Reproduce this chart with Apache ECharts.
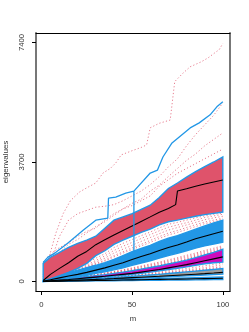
<!DOCTYPE html>
<html><head><meta charset="utf-8">
<script src="https://cdn.jsdelivr.net/npm/echarts@6/dist/echarts.min.js"></script>
<style>html,body{margin:0;padding:0;background:#fff}#c{width:249px;height:332px}</style>
</head><body><div id="c"></div>
<script>
// shared m grid
const M = [1,5,10,15,20,25,30,35,40,45,50,55,60,65,70,75,80,85,90,95,100];
const xTicks = [0,50,100];
const yTicks = [0,3700,7400];

// band 1 (red)
const redTop = [560,750,900,1057,1180,1280,1400,1650,1897,2000,2100,2230,2363,2600,2880,3050,3230,3400,3560,3700,3855];
const redBot = [20,80,155,280,404,560,800,950,1150,1280,1400,1520,1620,1750,1850,1900,1960,2020,2070,2110,2150];
const redMedM = [1,5,10,15,20,25,30,35,40,45,50,55,60,65,70,74,75,80,85,90,95,100];
const redMed = [30,220,404,580,780,930,1140,1290,1440,1580,1720,1860,2000,2145,2260,2380,2800,2870,2950,3020,3080,3140];
// band 2 (blue)
const blueTop = [15,80,180,270,350,430,500,580,680,800,920,1020,1120,1240,1340,1420,1520,1620,1720,1810,1900];
const blueMed = [5,50,110,170,220,280,350,420,500,580,680,770,860,960,1050,1130,1220,1320,1400,1480,1555];
const blueBot = [0,30,60,100,140,190,250,300,360,420,500,570,640,720,800,870,950,1030,1100,1160,1213];
// band 3 (magenta)
const magTop = [3,30,60,90,120,150,180,210,250,290,330,380,430,480,540,600,660,740,820,900,995];
const magMed = [2,20,40,60,85,110,135,160,190,220,250,290,330,370,420,470,520,580,640,700,760];
const magBot = [1,15,30,50,70,90,115,140,165,190,220,255,290,330,370,410,450,500,550,580,600];
// band 4 (grey)
const grayTop = [1,10,25,40,55,70,85,100,120,140,160,180,200,220,245,270,295,320,345,370,400];
const grayMed = [1,8,18,30,42,54,65,77,90,104,118,132,146,160,176,192,208,225,242,260,280];
const grayBot = [1,6,14,24,34,44,54,64,75,86,97,108,120,132,145,158,171,185,199,213,228];
// band 5 (lowest)
const lowTop = [1,6,12,18,25,31,38,45,52,59,66,73,80,87,94,101,108,115,122,129,136];
const lowMed = [0,4,8,13,18,23,28,33,38,43,48,53,58,63,68,73,78,83,88,93,98];
const lowBot = [0,2,5,8,11,14,17,20,23,26,29,32,35,38,41,44,47,50,53,56,59];

// dotted sample paths
const d1M = [1,3,5,8,12,16,21,25,30,34,38,41,44,50,55,58,60,65,71,73.5,78,82,88,92,96,98,100];
const d1 = [200,500,900,1500,2100,2500,2770,2900,3050,3360,3500,3670,3920,4050,4150,4230,4760,4900,5000,6190,6450,6650,6800,6930,7100,7180,7370];
const d2 = [150,600,1400,1900,2100,2200,2300,2330,2380,2500,2650,2800,3000,3250,3550,3800,4200,4550,4850,5150,5530];
const d3 = [80,450,900,1150,1300,1500,1700,1850,2050,2250,2420,2550,2800,2985,3250,3500,3750,3950,4200,4400,4600];
const d4 = [600,850,1050,1200,1400,1550,1650,1900,2100,2250,2350,2500,2650,2950,3150,3350,3500,3650,3800,3950,4100];
const g1 = [15,90,190,300,420,560,720,860,1050,1180,1300,1420,1530,1660,1770,1830,1900,1970,2030,2080,2120];
const g2 = [12,85,180,285,390,510,650,790,960,1090,1210,1330,1450,1570,1680,1750,1820,1900,1980,2030,2080];
const g3 = [10,80,170,270,370,470,600,720,880,1000,1120,1240,1360,1480,1590,1670,1750,1830,1910,1970,2020];
const g4 = [8,75,160,260,350,450,560,660,800,920,1040,1150,1270,1390,1500,1580,1670,1760,1840,1900,1960];
const g5 = [6,70,150,250,340,430,530,630,760,880,990,1100,1210,1330,1440,1520,1610,1700,1790,1850,1930];
const h1 = [2,30,60,95,130,170,215,260,310,360,420,480,540,600,670,740,810,880,960,1030,1110];
const h2 = [2,28,58,92,125,160,200,240,290,330,380,440,490,550,610,680,740,810,890,960,1050];
const h3 = [2,27,55,88,120,155,190,225,270,310,355,410,460,515,575,640,700,780,855,930,1020];
const h4 = [1,26,52,85,115,150,185,220,262,300,345,395,445,500,560,620,685,760,840,915,1005];
const h5 = [2,29,59,94,128,165,208,250,300,345,400,460,515,575,640,710,775,845,925,995,1080];
const k1 = [1,13,28,45,62,80,100,120,142,165,190,215,240,265,295,325,355,390,430,470,520];
const k2 = [1,12,26,42,58,75,93,110,130,152,175,198,220,243,270,298,325,355,390,425,460];
const k3 = [1,14,29,47,66,85,107,130,153,177,205,235,265,298,332,368,400,440,485,525,570];
const k4 = [1,11,25,41,56,72,90,106,126,146,168,190,210,232,258,285,310,338,368,398,430];

// solid blue path
const b1M = [1,3.5,8,14.5,23,30,36.6,37,41,46.5,51,51,51,51.5,60,64,67,72,82,87,93,96.7,100];
const b1 = [591,746,902,1181,1586,1897,1959,2580,2612,2736,2798,808,2798,2829,3358,3451,3855,4290,4757,4912,5161,5410,5565];

const RED='#DF536B', BLUE='#2297E6', MAG='#CD0BBC', GRAY='#9E9E9E';

function pairs(xs, ys){ return xs.map((x,i)=>[x, ys[i]]); }
function dotted(xs, ys){
  return {type:'line', data:pairs(xs,ys), symbol:'none', silent:true, z:2, animation:false,
    lineStyle:{color:RED, width:1, type:[1.2,2.2], opacity:0.75}};
}
function solid(xs, ys, color, w, z){
  return {type:'line', data:pairs(xs,ys), symbol:'none', silent:true, z:z, animation:false,
    lineStyle:{color:color, width:w}};
}
function band(top, bot, fill){
  const data = pairs(M, top).concat(pairs(M, bot).reverse());
  return {type:'custom', coordinateSystem:'cartesian2d', silent:true, z:3, animation:false,
    data:data, encode:{x:0,y:1},
    renderItem:function(params, api){
      if (params.dataIndex !== 0) return null;
      const pts = data.map(d=>api.coord(d));
      return {type:'polygon', shape:{points:pts}, style:{fill:fill, stroke:BLUE, lineWidth:1.4}};
    }};
}

const series = [
  dotted(d1M, d1), dotted(M, d2), dotted(M, d3), dotted(M, d4),
  dotted(M, g1), dotted(M, g2), dotted(M, g3), dotted(M, g4), dotted(M, g5),
  dotted(M, h1), dotted(M, h2), dotted(M, h3), dotted(M, h4), dotted(M, h5),
  dotted(M, k1), dotted(M, k2), dotted(M, k3), dotted(M, k4),
  band(redTop, redBot, RED), band(blueTop, blueBot, BLUE), band(magTop, magBot, MAG),
  band(grayTop, grayBot, GRAY), band(lowTop, lowBot, GRAY),
  solid(redMedM, redMed, '#000', 1.1, 4), solid(M, blueMed, '#000', 1.1, 4), solid(M, magMed, '#000', 1.1, 4),
  solid(M, grayMed, '#000', 1.1, 4), solid(M, lowMed, '#000', 1.1, 4),
  solid(b1M, b1, BLUE, 1.3, 5)
];

const font = '"Liberation Sans", Arial, sans-serif';
const plain = v => String(v);
const chart = echarts.init(document.getElementById('c'), null, {renderer:'canvas'});
chart.setOption({
  animation:false,
  backgroundColor:'#fff',
  grid:{left:36, top:33, right:19, bottom:41, containLabel:false, outerBoundsMode:'none'},
  xAxis:[{
    type:'value', min:-2.96, max:103.96, position:'bottom',
    axisLine:{show:true, onZero:false, lineStyle:{color:'#000', width:1}},
    axisTick:{show:true, customValues:xTicks, length:4, lineStyle:{color:'#000'}},
    axisLabel:{customValues:xTicks, formatter:plain, fontSize:7.7, color:'#333', margin:10, fontFamily:font},
    splitLine:{show:false},
    name:'m', nameLocation:'middle', nameGap:24, nameTextStyle:{fontSize:7.7, color:'#333', fontFamily:font}
  },{
    type:'value', min:-2.96, max:103.96, position:'top',
    axisLine:{show:true, onZero:false, lineStyle:{color:'#000', width:1}},
    axisTick:{show:false}, axisLabel:{show:false}, splitLine:{show:false}
  }],
  yAxis:[{
    type:'value', min:-296, max:7696, position:'left',
    axisLine:{show:true, onZero:false, lineStyle:{color:'#777', width:2}},
    axisTick:{show:true, customValues:yTicks, length:4, lineStyle:{color:'#000'}},
    axisLabel:{customValues:yTicks, formatter:plain, fontSize:7.7, color:'#333', margin:10, rotate:90, fontFamily:font},
    splitLine:{show:false},
    name:'eigenvalues', nameLocation:'middle', nameGap:23, nameTextStyle:{fontSize:8, color:'#333', fontFamily:font}
  },{
    type:'value', min:-296, max:7696, position:'right',
    axisLine:{show:true, onZero:false, lineStyle:{color:'#777', width:2}},
    axisTick:{show:false}, axisLabel:{show:false}, splitLine:{show:false}
  }],
  series: series
});
</script>
</body></html>
